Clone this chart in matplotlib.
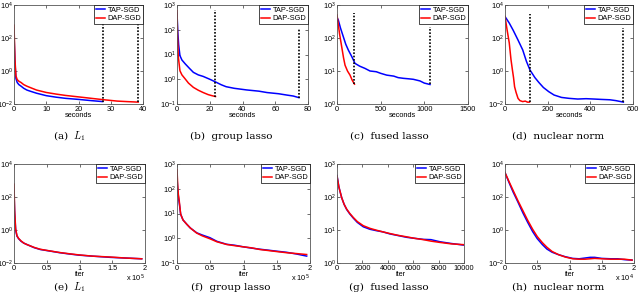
#!/usr/bin/python
"""
Objective value vs time (top row) and vs iterations (bottom row)
for TAP-SGD and DAP-SGD on four regularized problems.
"""

import matplotlib
matplotlib.use("Agg")
import matplotlib.pyplot as plt
from matplotlib.ticker import NullLocator

plt.rcParams['font.family'] = ['Liberation Sans', 'DejaVu Sans']

# ---- top row: objective vs seconds ----
a_tap_x = [0, 0.3, 0.6, 1, 1.5, 2.2, 3, 4, 5, 7, 10, 13, 16, 20, 24, 27.5]
a_tap_y = [200, 3, 0.35, 0.2, 0.15, 0.12, 0.09, 0.07, 0.06, 0.045, 0.032, 0.026, 0.022, 0.019, 0.016, 0.014]
a_dap_x = [0, 0.3, 0.6, 1, 1.5, 2.2, 3, 4, 5, 7, 10, 13, 16, 20, 24, 28, 32, 35, 38.5]
a_dap_y = [600, 5, 0.5, 0.3, 0.24, 0.2, 0.15, 0.12, 0.1, 0.07, 0.05, 0.04, 0.033, 0.027, 0.022, 0.018, 0.015, 0.014, 0.013]
a_stop_x = [27.5, 38.5]
a_stop_lo = [0.014, 0.013]
a_stop_hi = [1000, 2000]

b_tap_x = [0, 0.5, 1, 1.8, 3, 5, 7.5, 10, 13, 16, 20, 23.5, 27, 30, 35, 42.5, 50, 55, 62, 67, 71, 74.5]
b_tap_y = [470, 80, 25, 9, 6, 4.2, 2.8, 1.9, 1.5, 1.3, 1.0, 0.78, 0.6, 0.5, 0.43, 0.37, 0.33, 0.29, 0.26, 0.23, 0.21, 0.18]
b_dap_x = [0, 0.3, 0.8, 1.8, 3, 4.9, 7, 10, 13, 16, 19, 21, 23.5]
b_dap_y = [600, 60, 8, 2.2, 1.5, 1.05, 0.7, 0.47, 0.36, 0.29, 0.24, 0.22, 0.2]
b_stop_x = [23.5, 74.5]
b_stop_lo = [0.2, 0.18]
b_stop_hi = [600, 110]

c_tap_x = [0, 15, 40, 72, 100, 130, 170, 206, 260, 320, 378, 450, 500, 569, 650, 700, 760, 820, 874, 950, 1000, 1065]
c_tap_y = [420, 350, 200, 110, 65, 43, 27, 17, 14, 12, 10, 9.5, 8.5, 7.5, 7.0, 6.3, 6.0, 5.8, 5.6, 5.0, 4.3, 3.9]
c_dap_x = [0, 15, 30, 56, 75, 92, 120, 149, 175, 200]
c_dap_y = [500, 250, 130, 50, 25, 15, 10, 7.5, 5.2, 4.0]
c_stop_x = [200, 1065]
c_stop_lo = [4.0, 3.9]
c_stop_hi = [560, 220]

d_tap_x = [0, 20, 38, 60, 83, 100, 117, 140, 159, 180, 205, 230, 265, 300, 341, 380, 417, 450, 492, 520, 555]
d_tap_y = [2000, 800, 300, 80, 19, 4, 1.15, 0.4, 0.2, 0.1, 0.056, 0.035, 0.025, 0.022, 0.02, 0.021, 0.02, 0.019, 0.018, 0.016, 0.013]
d_dap_x = [0, 10, 20, 28, 35, 40, 45, 52, 61, 70, 83, 95, 105, 115]
d_dap_y = [2000, 300, 50, 5, 1.1, 0.4, 0.11, 0.05, 0.022, 0.016, 0.014, 0.015, 0.013, 0.013]
d_stop_x = [115, 555]
d_stop_lo = [0.013, 0.013]
d_stop_hi = [2800, 380]

# ---- bottom row: objective vs iterations ----
e_x = [0, 1000, 2500, 4500, 7000, 10600, 15000, 20000, 30800, 40000, 56000, 70000, 85000, 99000, 120000, 147000, 170000, 195000]
e_tap_y = [250, 10, 1, 0.43, 0.3, 0.21, 0.16, 0.13, 0.085, 0.066, 0.052, 0.042, 0.035, 0.03, 0.026, 0.022, 0.02, 0.018]
e_dap_y = [600, 15, 1.2, 0.45, 0.31, 0.22, 0.16, 0.13, 0.088, 0.068, 0.053, 0.043, 0.036, 0.031, 0.026, 0.023, 0.02, 0.018]

f_x = [0, 1000, 2000, 3500, 5500, 9000, 14600, 20000, 29600, 38000, 49600, 60000, 74700, 87000, 99700,
       112000, 124800, 137000, 149900, 165000, 180000, 195000]
f_tap_y = [300, 100, 50, 25, 9.3, 5.5, 3.7, 2.6, 1.66, 1.35, 1.05, 0.75, 0.57, 0.52, 0.45, 0.4, 0.36, 0.33, 0.3, 0.27, 0.23, 0.19]
f_dap_y = [600, 150, 60, 30, 9.5, 5.5, 3.7, 2.6, 1.62, 1.25, 0.95, 0.72, 0.56, 0.5, 0.45, 0.41, 0.35, 0.32, 0.29, 0.26, 0.24, 0.22]

g_x = [0, 150, 370, 560, 760, 1000, 1280, 1600, 2070, 2600, 3130, 3600, 4170, 4800, 5490, 6100, 6800, 7400, 8110, 9000, 9950]
g_tap_y = [450, 200, 95, 60, 42, 31, 23, 17, 12.5, 10.5, 9.5, 8.8, 7.6, 6.8, 6.0, 5.6, 5.2, 5.1, 4.4, 3.9, 3.5]
g_dap_y = [430, 200, 95, 60, 43, 32, 24, 18, 13.5, 11.2, 9.8, 8.8, 7.8, 6.9, 6.2, 5.6, 5.1, 4.6, 4.2, 3.8, 3.6]

h_x = [0, 600, 1260, 2000, 2770, 3500, 4290, 5000, 5800, 6500, 7300, 8300, 9350, 10500, 11500, 12400,
       13200, 13900, 15000, 16400, 17500, 18500, 19700]
h_tap_y = [3000, 800, 200, 50, 11, 3, 0.8, 0.3, 0.13, 0.07, 0.045, 0.032, 0.024, 0.019, 0.018, 0.02,
           0.022, 0.022, 0.019, 0.018, 0.018, 0.016, 0.015]
h_dap_y = [3000, 900, 250, 60, 15, 4, 1.1, 0.4, 0.17, 0.09, 0.05, 0.032, 0.023, 0.018, 0.017, 0.017,
           0.018, 0.019, 0.018, 0.017, 0.017, 0.017, 0.015]

captions = [r"(a)  $L_1$", "(b)  group lasso", "(c)  fused lasso", "(d)  nuclear norm",
            r"(e)  $L_1$", "(f)  group lasso", "(g)  fused lasso", "(h)  nuclear norm"]

W, H = 640, 302


def px_axes(fig, left, top, right, bottom):
    """add axes given pixel edges (origin top-left)"""
    return fig.add_axes([left / W, (H - bottom) / H, (right - left) / W, (bottom - top) / H])


def style_axes(ax, xlim, xticks, xticklabels, ylim, yticks, xlabel):
    ax.set_yscale("log")
    ax.set_xlim(*xlim)
    ax.set_ylim(*ylim)
    ax.set_xticks(xticks)
    if xticklabels is not None:
        ax.set_xticklabels(xticklabels)
    ax.set_yticks(yticks)
    ax.yaxis.set_minor_locator(NullLocator())
    ax.tick_params(direction="in", length=2, width=0.5, labelsize=5.3, pad=1.5,
                   top=True, right=True, colors="#333333", labelcolor="black")
    ax.tick_params(axis="y", pad=0.8)
    for s in ax.spines.values():
        s.set_linewidth(0.6)
        s.set_color("#555555")
    ax.set_xlabel(xlabel, fontsize=5.3, labelpad=-1)


def draw(ax, tx, ty, dx, dy, stop_x=None, stop_lo=None, stop_hi=None):
    ax.plot(tx, ty, color="#0000ff", lw=1.1, label="TAP-SGD")
    ax.plot(dx, dy, color="#ff0000", lw=1.1, label="DAP-SGD")
    if stop_x is not None:
        ax.vlines(stop_x, stop_lo, stop_hi, colors="black", linestyles=(0, (1, 1)), lw=1.2)
    leg = ax.legend(loc="upper right", bbox_to_anchor=(1, 1), borderaxespad=0, fontsize=5.3,
                    handlelength=1.3, handletextpad=0.3, borderpad=0.25, labelspacing=0.15,
                    fancybox=False, framealpha=1, edgecolor="black")
    leg.get_frame().set_linewidth(0.5)


def main():
    fig = plt.figure(figsize=(6.4, 3.02), dpi=100)

    # top row
    ax = px_axes(fig, 14, 5, 143, 104)
    draw(ax, a_tap_x, a_tap_y, a_dap_x, a_dap_y, a_stop_x, a_stop_lo, a_stop_hi)
    style_axes(ax, (0, 40), [0, 10, 20, 30, 40], None, (1e-2, 1e4), [1e-2, 1, 1e2, 1e4], "seconds")

    ax = px_axes(fig, 177, 5, 308, 104)
    draw(ax, b_tap_x, b_tap_y, b_dap_x, b_dap_y, b_stop_x, b_stop_lo, b_stop_hi)
    style_axes(ax, (0, 80), [0, 20, 40, 60, 80], None, (1e-1, 1e3), [1e-1, 1, 1e1, 1e2, 1e3], "seconds")

    ax = px_axes(fig, 337, 5, 468, 104)
    draw(ax, c_tap_x, c_tap_y, c_dap_x, c_dap_y, c_stop_x, c_stop_lo, c_stop_hi)
    style_axes(ax, (0, 1500), [0, 500, 1000, 1500], None, (1, 1e3), [1, 1e1, 1e2, 1e3], "seconds")

    ax = px_axes(fig, 505, 5, 633, 104)
    draw(ax, d_tap_x, d_tap_y, d_dap_x, d_dap_y, d_stop_x, d_stop_lo, d_stop_hi)
    style_axes(ax, (0, 600), [0, 200, 400, 600], None, (1e-2, 1e4), [1e-2, 1, 1e2, 1e4], "seconds")

    # bottom row
    ax = px_axes(fig, 14, 164, 145, 263)
    draw(ax, e_x, e_tap_y, e_x, e_dap_y)
    style_axes(ax, (0, 2e5), [0, 0.5e5, 1e5, 1.5e5, 2e5], ["0", "0.5", "1", "1.5", "2"],
               (1e-2, 1e4), [1e-2, 1, 1e2, 1e4], "iter")
    ax.text(1.0, -0.15, r"x 10$^5$", transform=ax.transAxes, fontsize=5.3, ha="right", va="center")

    ax = px_axes(fig, 177, 164, 310, 263)
    draw(ax, f_x, f_tap_y, f_x, f_dap_y)
    style_axes(ax, (0, 2e5), [0, 0.5e5, 1e5, 1.5e5, 2e5], ["0", "0.5", "1", "1.5", "2"],
               (1e-1, 1e3), [1e-1, 1, 1e1, 1e2, 1e3], "iter")
    ax.text(1.0, -0.15, r"x 10$^5$", transform=ax.transAxes, fontsize=5.3, ha="right", va="center")

    ax = px_axes(fig, 337, 164, 464, 263)
    draw(ax, g_x, g_tap_y, g_x, g_dap_y)
    style_axes(ax, (0, 10000), [0, 2000, 4000, 6000, 8000, 10000], None,
               (1, 1e3), [1, 1e1, 1e2, 1e3], "iter")

    ax = px_axes(fig, 505, 164, 634, 263)
    draw(ax, h_x, h_tap_y, h_x, h_dap_y)
    style_axes(ax, (0, 2e4), [0, 0.5e4, 1e4, 1.5e4, 2e4], ["0", "0.5", "1", "1.5", "2"],
               (1e-2, 1e4), [1e-2, 1, 1e2, 1e4], "iter")
    ax.text(1.0, -0.15, r"x 10$^4$", transform=ax.transAxes, fontsize=5.3, ha="right", va="center")

    # sub-figure captions
    cap_x = [70, 231, 389, 558]
    cap_y = [136, 287]
    for i, cap in enumerate(captions):
        fig.text(cap_x[i % 4] / W, 1 - cap_y[i // 4] / H, cap, fontsize=7.5, ha="center", va="center",
                 family="DejaVu Serif", math_fontfamily="cm")

    fig.savefig("out.png", dpi=100)


if __name__ == "__main__":
    main()
